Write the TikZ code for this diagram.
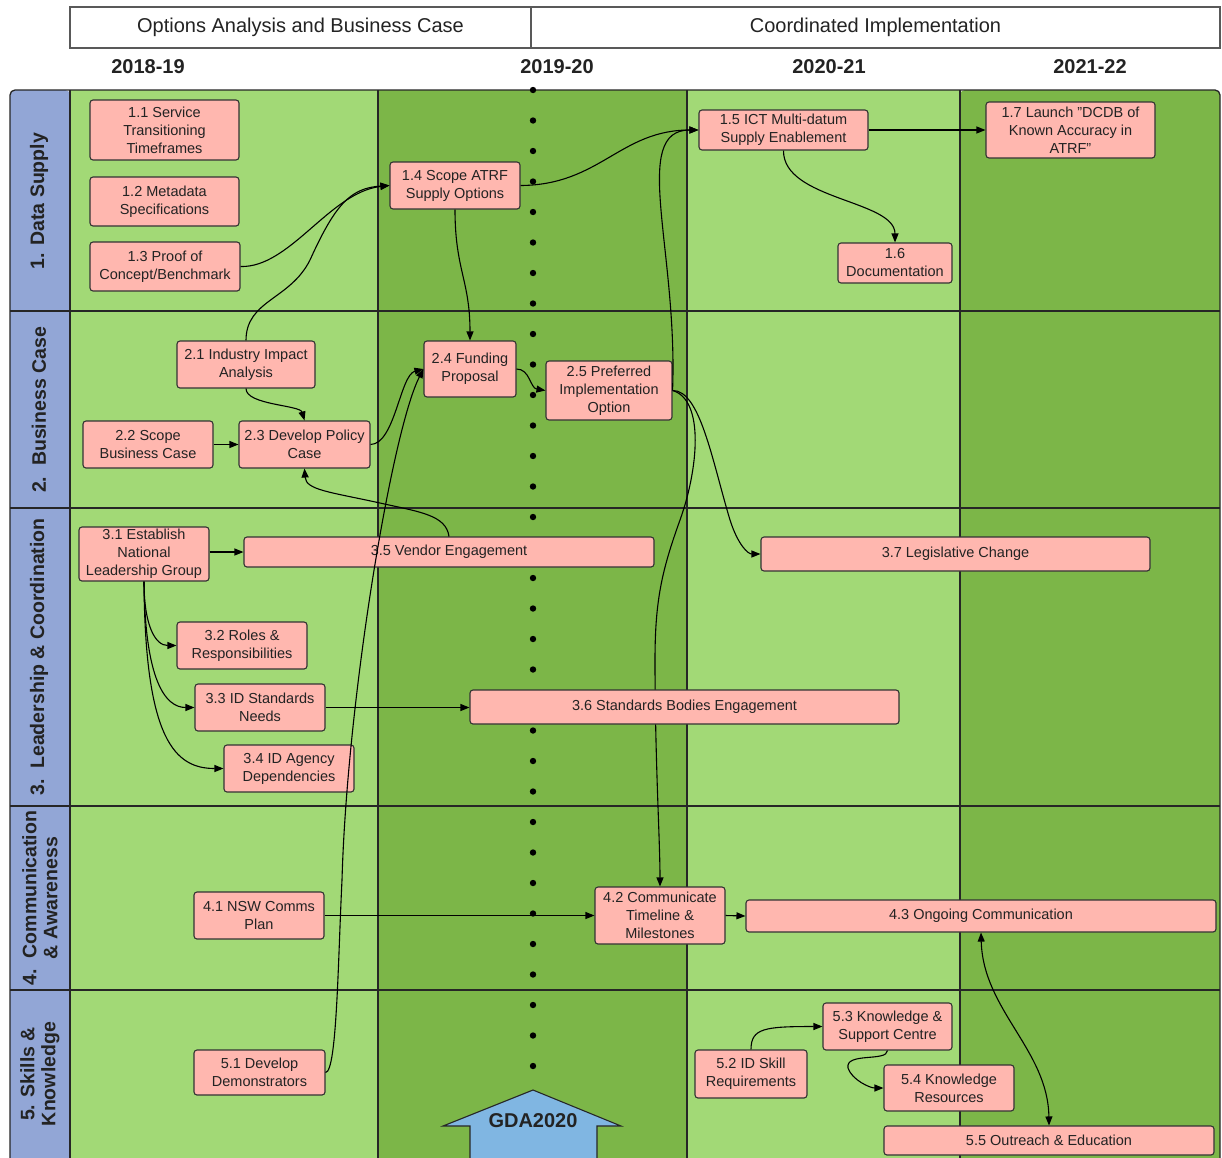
\documentclass[tikz,border=0pt]{standalone}
\usepackage{fontspec}
\setmainfont{Liberation Sans}
\usetikzlibrary{arrows.meta}
\definecolor{lgreen}{RGB}{162,217,118}
\definecolor{dgreen}{RGB}{124,182,72}
\definecolor{pinkbox}{RGB}{255,183,175}
\definecolor{laneblue}{RGB}{146,166,214}
\definecolor{gdablue}{RGB}{128,182,226}
\definecolor{txt}{RGB}{35,35,35}
\pgfdeclarelayer{bg}
\pgfdeclarelayer{mid}
\pgfsetlayers{bg,mid,main}
\begin{document}
\begin{tikzpicture}[x=1pt,y=-1pt,
  >={Triangle[length=9pt,width=7pt]},
  box/.style={draw=black!80, line width=1.1pt, fill=pinkbox, rounded corners=3pt,
    inner sep=0pt, align=center, text=txt, font=\fontsize{14.5}{18}\selectfont},
  conn/.style={line width=1.1pt, ->},
  hdr/.style={draw=black!65, line width=1.4pt, fill=white, inner sep=0pt,
    minimum height=41pt, font=\fontsize{20}{24}\selectfont, text=txt},
  year/.style={font=\bfseries\fontsize{20}{24}\selectfont, text=txt},
  lane/.style={rotate=90, align=center, font=\bfseries\fontsize{19.5}{21}\selectfont, text=txt},
  gridline/.style={line width=1.3pt, draw=black!85}
]
\useasboundingbox (0,0) rectangle (1222,1157);

% ---------- background grid ----------
\begin{pgfonlayer}{bg}
  \fill[laneblue, rounded corners=5pt] (10,1170) -- (10,90) -- (70,90) -- (70,1170) -- cycle;
  \fill[lgreen] (70,90) rectangle (378,1170);
  \fill[dgreen] (378,90) rectangle (687,1170);
  \fill[lgreen] (687,90) rectangle (960,1170);
  \fill[dgreen, rounded corners=5pt] (960,1170) -- (960,90) -- (1220,90) -- (1220,1170) -- cycle;
  \foreach \yy in {311,508,806,990}
    \draw[gridline] (10,\yy) -- (1220,\yy);
  \foreach \xx in {70,378,687,960}
    \draw[gridline] (\xx,90) -- (\xx,1160);
  \draw[gridline, rounded corners=5pt] (10,1160) -- (10,90) -- (1220,90) -- (1220,1160);
  \foreach \i in {0,...,32}
    \fill[black] (533,{90+30.5*\i}) circle[radius=3.2pt];
  \draw[line width=1.1pt, fill=gdablue, draw=black!85]
    (533,1090) -- (621,1126) -- (597,1126) -- (597,1165) -- (470,1165) -- (470,1126) -- (443,1126) -- cycle;
\end{pgfonlayer}
\node[font=\bfseries\fontsize{20}{24}\selectfont, text=txt] (gda) at (533,1121) {GDA2020};

% ---------- header ----------
\node[hdr, minimum width=461pt] (hA) at (300.5,27.5) {Options Analysis and Business Case};
\node[hdr, minimum width=689pt] (hB) at (875.5,27.5) {Coordinated Implementation};
\node[year] (y1) at (148,67) {2018-19};
\node[year] (y2) at (557,67) {2019-20};
\node[year] (y3) at (829,67) {2020-21};
\node[year] (y4) at (1090,67) {2021-22};

% ---------- lane labels ----------
\node[lane] (lane1) at (39,201) {1. Data Supply};
\node[lane] (lane2) at (39,410) {2.\ \ Business Case};
\node[lane] (lane3) at (39,657) {3.\ \ Leadership \& Coordination};
\node[lane] (lane4) at (40,898) {4.\ \ Communication\\\& Awareness};
\node[lane] (lane5) at (40,1074) {5. Skills \&\\Knowledge};

% ---------- boxes ----------
\node[box, minimum width=149pt, minimum height=60pt] (n11) at (164.5,130) {1.1 Service\\Transitioning\\Timeframes};
\node[box, minimum width=149pt, minimum height=49pt] (n12) at (164.5,201.5) {1.2 Metadata\\Specifications};
\node[box, minimum width=150pt, minimum height=49pt] (n13) at (165,266.5) {1.3 Proof of\\Concept/Benchmark};
\node[box, minimum width=130pt, minimum height=47pt] (n14) at (455,185.5) {1.4 Scope ATRF\\Supply Options};
\node[box, minimum width=169pt, minimum height=40pt] (n15) at (783.5,130) {1.5 ICT Multi-datum\\Supply Enablement};
\node[box, minimum width=114pt, minimum height=40pt] (n16) at (895,263) {1.6\\Documentation};
\node[box, minimum width=169pt, minimum height=56pt] (n17) at (1070.5,130) {1.7 Launch "DCDB of\\Known Accuracy in\\ATRF"};

\node[box, minimum width=138pt, minimum height=47pt] (n21) at (246,364.5) {2.1 Industry Impact\\Analysis};
\node[box, minimum width=130pt, minimum height=47pt] (n22) at (148,444.5) {2.2 Scope\\Business Case};
\node[box, minimum width=131pt, minimum height=47pt] (n23) at (304.5,444.5) {2.3 Develop Policy\\Case};
\node[box, minimum width=92pt, minimum height=56pt] (n24) at (470,369) {2.4 Funding\\Proposal};
\node[box, minimum width=126pt, minimum height=59pt] (n25) at (609,390.5) {2.5 Preferred\\Implementation\\Option};

\node[box, minimum width=130pt, minimum height=54pt] (n31) at (144,554) {3.1 Establish\\National\\Leadership Group};
\node[box, minimum width=130pt, minimum height=47pt] (n32) at (242,645.5) {3.2 Roles \&\\Responsibilities};
\node[box, minimum width=130pt, minimum height=47pt] (n33) at (260,707.5) {3.3 ID Standards\\Needs};
\node[box, minimum width=130pt, minimum height=47pt] (n34) at (289,768.5) {3.4 ID Agency\\Dependencies};
\node[box, minimum width=410pt, minimum height=30pt] (n35) at (449,552) {3.5 Vendor Engagement};
\node[box, minimum width=429pt, minimum height=34pt] (n36) at (684.5,707) {3.6 Standards Bodies Engagement};
\node[box, minimum width=389pt, minimum height=34pt] (n37) at (955.5,554) {3.7 Legislative Change};

\node[box, minimum width=130pt, minimum height=47pt] (n41) at (259,915.5) {4.1 NSW Comms\\Plan};
\node[box, minimum width=130pt, minimum height=57pt] (n42) at (660,915.5) {4.2 Communicate\\Timeline \&\\Milestones};
\node[box, minimum width=470pt, minimum height=32pt] (n43) at (981,916) {4.3 Ongoing Communication};

\node[box, minimum width=131pt, minimum height=45pt] (n51) at (259.5,1072.5) {5.1 Develop\\Demonstrators};
\node[box, minimum width=112pt, minimum height=48pt] (n52) at (751,1074) {5.2 ID Skill\\Requirements};
\node[box, minimum width=129pt, minimum height=47pt] (n53) at (887.5,1026.5) {5.3 Knowledge \&\\Support Centre};
\node[box, minimum width=130pt, minimum height=46pt] (n54) at (949,1088) {5.4 Knowledge\\Resources};
\node[box, minimum width=330pt, minimum height=29pt] (n55) at (1049,1140.5) {5.5 Outreach \& Education};

% ---------- connectors behind boxes ----------
\begin{pgfonlayer}{mid}
  \draw[conn] (n25.east) .. controls (705,400) and (698,470) .. (680,520)
    .. controls (662,570) and (655,600) .. (655,660)
    .. controls (655,760) and (660,840) .. (n42.north);
\end{pgfonlayer}

% ---------- connectors ----------
\draw[conn] (n13.east) .. controls (290,268) and (330,192) .. (n14.west);
\draw[conn] (n21.north) .. controls (246,300) and (290,300) .. (310,260)
  .. controls (335,205) and (350,188) .. (n14.west);
\draw[conn] (n14.east) .. controls (600,185) and (620,130) .. (n15.west);
\draw[conn] (n25.east) .. controls (678,250) and (630,130) .. (n15.west);
\draw[conn] (n14.south) .. controls (455,270) and (470,280) .. (n24.north);
\draw[conn] (n15.south) .. controls (783,200) and (895,200) .. (n16.north);
\draw[conn] (n15.east) -- (n17.west);
\draw[conn] (n21.south) .. controls (246,405) and (300,405) .. (n23.north);
\draw[conn] (n22.east) -- (n23.west);
\draw[conn] (n23.east) .. controls (395,444) and (400,375) .. (n24.west);
\draw[conn] (n51.east) .. controls (337,1072) and (338,960) .. (342,880)
  .. controls (347,700) and (392,430) .. (n24.west);
\draw[conn] (n24.east) .. controls (530,369) and (530,388) .. (n25.west);
\draw[conn] (n35.north) .. controls (446,515) and (420,512) .. (380,503)
  .. controls (330,492) and (306,490) .. (n23.south);
\draw[conn] (n31.east |- n35.west) -- (n35.west);
\draw[conn] (n31.south) .. controls (144,625) and (155,645.5) .. (n32.west);
\draw[conn] (n31.south) .. controls (145,680) and (165,707.5) .. (n33.west);
\draw[conn] (n31.south) .. controls (145,740) and (175,768.5) .. (n34.west);
\draw[conn] (n33.east) -- (n33.east -| n36.west);
\draw[conn] (n25.east) .. controls (700,390) and (712,460) .. (730,520)
  .. controls (738,545) and (748,554) .. (n37.west);
\draw[conn] (n41.east) -- (n42.west);
\draw[conn] (n42.east) -- (n43.west);
\draw[line width=1.1pt, <->] (n43.south) .. controls (983,1010) and (1048,1050) .. (n55.north);
\draw[conn] (n52.north) .. controls (751,1028) and (765,1026.5) .. (n53.west);
\draw[conn] (n53.south) .. controls (887,1062) and (845,1052) .. (848,1068)
  .. controls (852,1080) and (870,1088) .. (n54.west);
\end{tikzpicture}
\end{document}
